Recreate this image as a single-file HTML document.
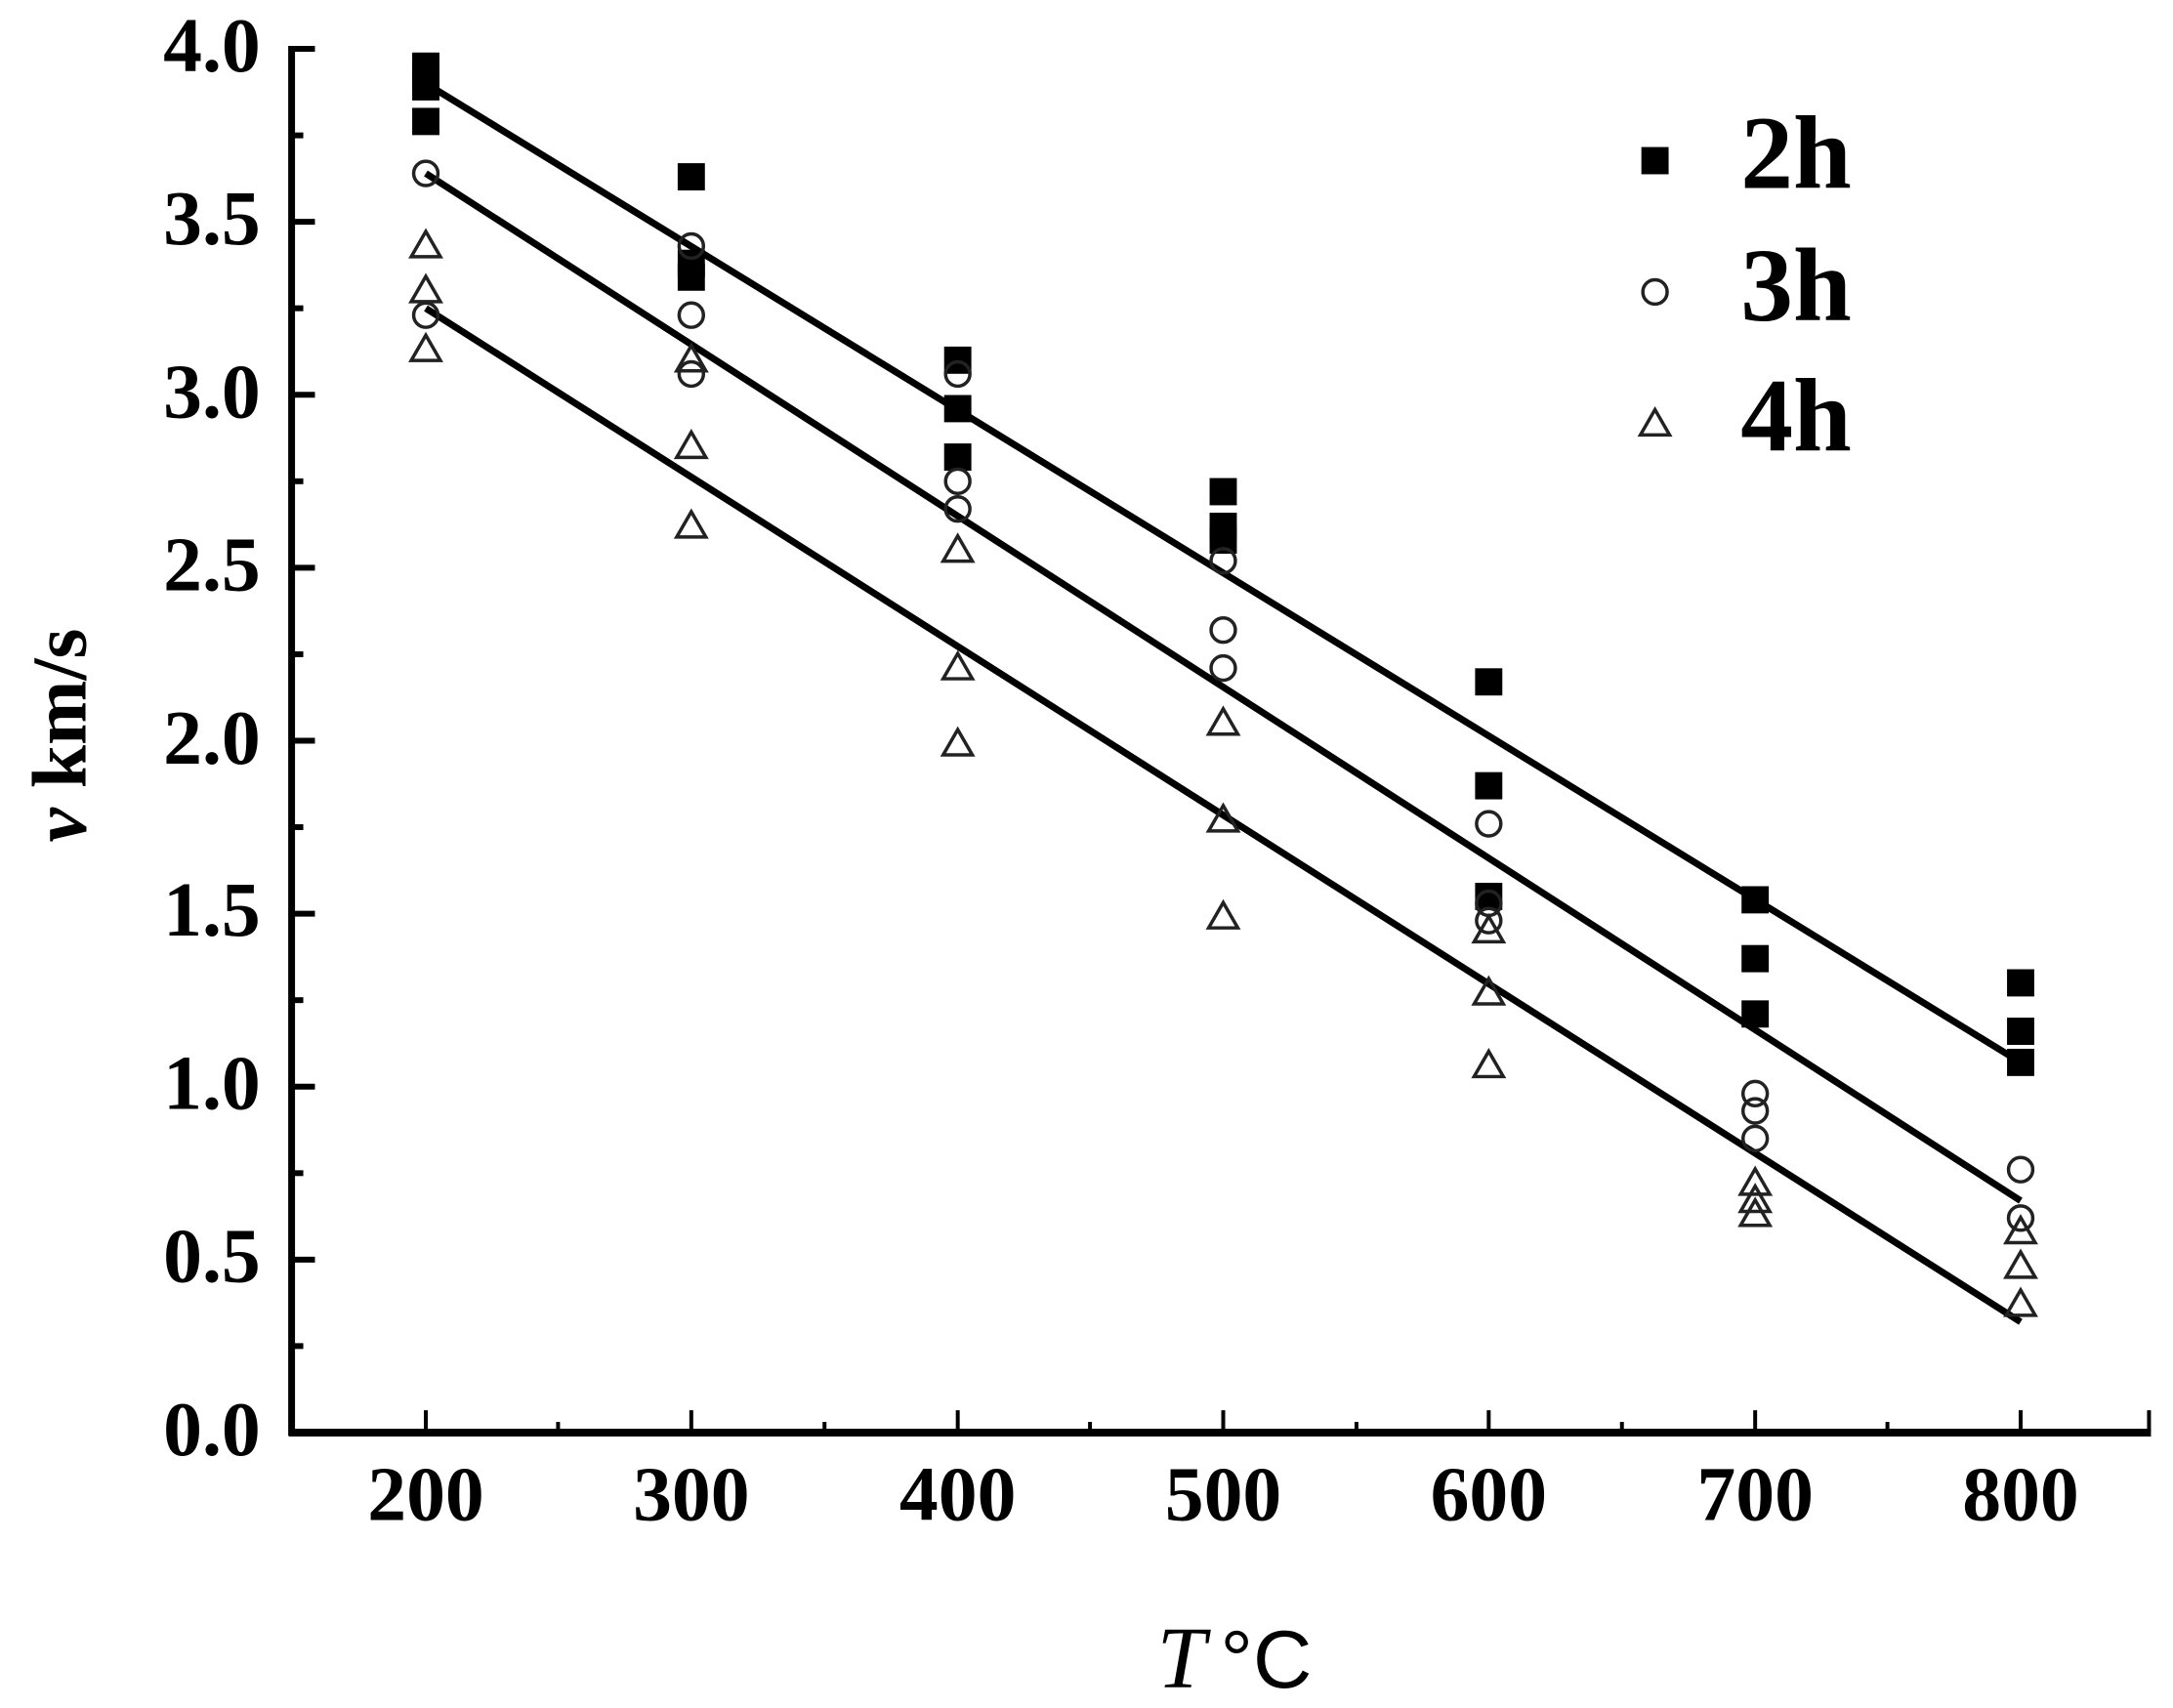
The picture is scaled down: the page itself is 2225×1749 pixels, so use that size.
<!DOCTYPE html>
<html><head><meta charset="utf-8"><style>
html,body{margin:0;padding:0;background:#fff;}
svg{display:block;}
text{font-family:"Liberation Serif",serif;font-weight:bold;fill:#000;}
</style></head><body>
<svg width="2225" height="1749" viewBox="0 0 2225 1749" xmlns="http://www.w3.org/2000/svg">
<defs>
<rect id="sq" x="-14" y="-14" width="28" height="28" fill="#000"/>
<circle id="ci" cx="0" cy="0" r="12.5" fill="none" stroke="#222" stroke-width="3.5"/>
<polygon id="tr" points="-15,11 15,11 0,-15" fill="none" stroke="#222" stroke-width="3.5" stroke-linejoin="miter"/>
</defs>
<g transform="matrix(0.99573 0 0 0.99578 -0.13 0.21)">
<!-- axes -->
<line x1="300" y1="47" x2="300" y2="1476" stroke="#000" stroke-width="7"/>
<line x1="297" y1="1473" x2="2212" y2="1473" stroke="#000" stroke-width="8"/>
<g stroke="#000" stroke-width="6">
<line x1="300" y1="50" x2="324" y2="50"/><line x1="300" y1="227.9" x2="324" y2="227.9"/>
<line x1="300" y1="405.8" x2="324" y2="405.8"/><line x1="300" y1="583.6" x2="324" y2="583.6"/>
<line x1="300" y1="761.5" x2="324" y2="761.5"/><line x1="300" y1="939.4" x2="324" y2="939.4"/>
<line x1="300" y1="1117.3" x2="324" y2="1117.3"/><line x1="300" y1="1295.1" x2="324" y2="1295.1"/>
<line x1="300" y1="139" x2="312" y2="139"/><line x1="300" y1="316.8" x2="312" y2="316.8"/>
<line x1="300" y1="494.7" x2="312" y2="494.7"/><line x1="300" y1="672.6" x2="312" y2="672.6"/>
<line x1="300" y1="850.4" x2="312" y2="850.4"/><line x1="300" y1="1028.3" x2="312" y2="1028.3"/>
<line x1="300" y1="1206.2" x2="312" y2="1206.2"/><line x1="300" y1="1384" x2="312" y2="1384"/>
</g>
<g stroke="#000" stroke-width="4">
<line x1="438" y1="1473" x2="438" y2="1450"/><line x1="711" y1="1473" x2="711" y2="1450"/>
<line x1="985" y1="1473" x2="985" y2="1450"/><line x1="1258" y1="1473" x2="1258" y2="1450"/>
<line x1="1531" y1="1473" x2="1531" y2="1450"/><line x1="1805" y1="1473" x2="1805" y2="1450"/>
<line x1="2078" y1="1473" x2="2078" y2="1450"/>
<line x1="574" y1="1473" x2="574" y2="1462"/><line x1="848" y1="1473" x2="848" y2="1462"/>
<line x1="1121" y1="1473" x2="1121" y2="1462"/><line x1="1395" y1="1473" x2="1395" y2="1462"/>
<line x1="1668" y1="1473" x2="1668" y2="1462"/><line x1="1941" y1="1473" x2="1941" y2="1462"/>
<line x1="2210" y1="1473" x2="2210" y2="1450"/>
</g>
<!-- y labels -->
<g font-size="80" text-anchor="end">
<text x="268" y="73">4.0</text><text x="268" y="251">3.5</text><text x="268" y="429">3.0</text>
<text x="268" y="607">2.5</text><text x="268" y="785">2.0</text><text x="268" y="962">1.5</text>
<text x="268" y="1140">1.0</text><text x="268" y="1318">0.5</text><text x="268" y="1496">0.0</text>
</g>
<g font-size="80" text-anchor="middle">
<text x="438" y="1563">200</text><text x="711" y="1563">300</text><text x="985" y="1563">400</text>
<text x="1258" y="1563">500</text><text x="1531" y="1563">600</text><text x="1805" y="1563">700</text>
<text x="2078" y="1563">800</text>
</g>
<text transform="translate(88,756) rotate(-90)" font-size="80" text-anchor="middle"><tspan font-style="italic">v</tspan> km/s</text>
<text x="1190" y="1735" font-size="90" style="font-style:italic;font-weight:normal">T</text>
<text x="1255" y="1735" font-size="84" style="font-family:'Liberation Sans',sans-serif;font-weight:normal">°C</text>
<!-- fit lines -->
<g stroke="#000" stroke-width="7">
<line x1="438" y1="85.6" x2="2078" y2="1092.3"/>
<line x1="438" y1="178.1" x2="2078" y2="1234.6"/>
<line x1="438" y1="316.8" x2="2078" y2="1359.2"/>
</g>
<!-- 2h -->
<g>
<use href="#sq" x="438" y="67.8"/><use href="#sq" x="438" y="78.5"/><use href="#sq" x="438" y="89.1"/><use href="#sq" x="438" y="124.7"/>
<use href="#sq" x="711" y="181.6"/><use href="#sq" x="711" y="270.6"/><use href="#sq" x="711" y="284.8"/>
<use href="#sq" x="985" y="370.2"/><use href="#sq" x="985" y="420"/><use href="#sq" x="985" y="469.8"/>
<use href="#sq" x="1258" y="505.4"/><use href="#sq" x="1258" y="541"/><use href="#sq" x="1258" y="555.2"/>
<use href="#sq" x="1531" y="701"/><use href="#sq" x="1531" y="807.8"/><use href="#sq" x="1531" y="921.6"/>
<use href="#sq" x="1805" y="925.1"/><use href="#sq" x="1805" y="985.6"/><use href="#sq" x="1805" y="1042.5"/>
<use href="#sq" x="2078" y="1010.5"/><use href="#sq" x="2078" y="1060.3"/><use href="#sq" x="2078" y="1092.3"/>
</g>
<!-- 3h -->
<g>
<use href="#ci" x="438" y="178.1"/><use href="#ci" x="438" y="323.9"/>
<use href="#ci" x="711" y="252.8"/><use href="#ci" x="711" y="323.9"/><use href="#ci" x="711" y="384.4"/>
<use href="#ci" x="985" y="384.4"/><use href="#ci" x="985" y="494.7"/><use href="#ci" x="985" y="523.2"/>
<use href="#ci" x="1258" y="576.5"/><use href="#ci" x="1258" y="647.7"/><use href="#ci" x="1258" y="686.8"/>
<use href="#ci" x="1531" y="846.9"/><use href="#ci" x="1531" y="928.7"/><use href="#ci" x="1531" y="946.5"/>
<use href="#ci" x="1805" y="1124.4"/><use href="#ci" x="1805" y="1142.2"/><use href="#ci" x="1805" y="1170.6"/>
<use href="#ci" x="2078" y="1202.6"/><use href="#ci" x="2078" y="1252.4"/>
</g>
<!-- 4h -->
<g>
<use href="#tr" x="438" y="252.8"/><use href="#tr" x="438" y="299"/><use href="#tr" x="438" y="359.5"/>
<use href="#tr" x="711" y="370.2"/><use href="#tr" x="711" y="459.1"/><use href="#tr" x="711" y="541"/>
<use href="#tr" x="985" y="565.8"/><use href="#tr" x="985" y="686.8"/><use href="#tr" x="985" y="765.1"/>
<use href="#tr" x="1258" y="743.7"/><use href="#tr" x="1258" y="843.3"/><use href="#tr" x="1258" y="943"/>
<use href="#tr" x="1531" y="957.2"/><use href="#tr" x="1531" y="1021.2"/><use href="#tr" x="1531" y="1095.9"/>
<use href="#tr" x="1805" y="1216.9"/><use href="#tr" x="1805" y="1234.6"/><use href="#tr" x="1805" y="1248.9"/>
<use href="#tr" x="2078" y="1266.7"/><use href="#tr" x="2078" y="1302.2"/><use href="#tr" x="2078" y="1341.4"/>
</g>
<!-- legend -->
<use href="#sq" x="1702" y="165"/>
<use href="#ci" x="1702" y="300"/>
<use href="#tr" x="1702" y="436"/>
<g font-size="108">
<text x="1790" y="193">2h</text>
<text x="1790" y="329">3h</text>
<text x="1790" y="463">4h</text>
</g>
</g>
</svg>
</body></html>
